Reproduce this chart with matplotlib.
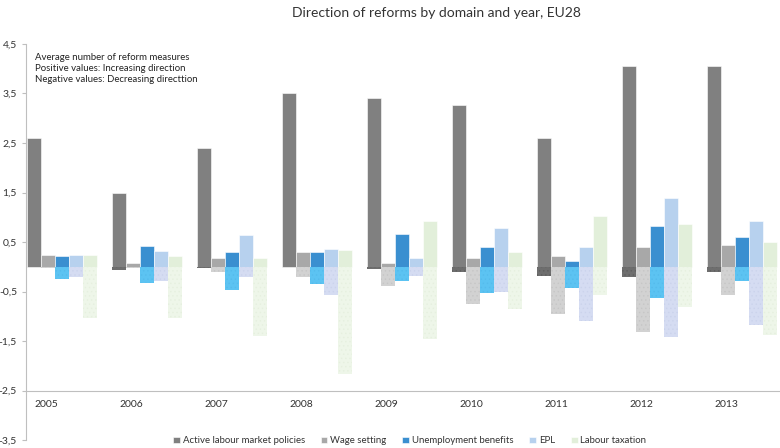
import matplotlib.pyplot as plt
import numpy as np

years = ["2005", "2006", "2007", "2008", "2009", "2010", "2011", "2012", "2013"]
domains = ["Active labour market policies", "Wage setting", "Unemployment benefits",
           "EPL", "Labour taxation"]

# increasing direction (positive)
almp_pos = [2.60, 1.50, 2.40, 3.51, 3.41, 3.27, 2.60, 4.06, 4.06]
wage_pos = [0.24, 0.07, 0.17, 0.29, 0.07, 0.17, 0.21, 0.39, 0.43]
unemp_pos = [0.21, 0.42, 0.29, 0.29, 0.67, 0.39, 0.11, 0.82, 0.61]
epl_pos = [0.24, 0.32, 0.64, 0.35, 0.17, 0.78, 0.39, 1.39, 0.93]
tax_pos = [0.24, 0.21, 0.17, 0.34, 0.92, 0.29, 1.02, 0.86, 0.50]

# decreasing direction (negative)
almp_neg = [0.00, -0.07, -0.03, 0.00, -0.04, -0.11, -0.18, -0.21, -0.11]
wage_neg = [-0.03, -0.03, -0.11, -0.21, -0.39, -0.75, -0.96, -1.32, -0.57]
unemp_neg = [-0.25, -0.33, -0.46, -0.35, -0.29, -0.53, -0.43, -0.63, -0.29]
epl_neg = [-0.21, -0.29, -0.21, -0.57, -0.18, -0.50, -1.10, -1.42, -1.17]
tax_neg = [-1.03, -1.03, -1.40, -2.17, -1.45, -0.85, -0.57, -0.82, -1.38]

pos_series = [almp_pos, wage_pos, unemp_pos, epl_pos, tax_pos]
neg_series = [almp_neg, wage_neg, unemp_neg, epl_neg, tax_neg]

pos_colors = ["#808080", "#a8a8a8", "#3a8fd0", "#b7d1ee", "#e2efda"]
neg_colors = ["#6e6e6e", "#d2d2d2", "#5cc3f2", "#d5dcf2", "#eef6e9"]
neg_hatch = ["#5e5e5e", "#c6c6c6", "#55bbec", "#cbd3ec", "#e6f0df"]

y_ticks = [4.5, 3.5, 2.5, 1.5, 0.5, -0.5, -1.5, -2.5, -3.5]

plt.rcParams["font.family"] = ["Lato", "DejaVu Sans"]
plt.rcParams["hatch.linewidth"] = 0.5

fig = plt.figure(figsize=(7.8, 4.48), dpi=100)
ax = fig.add_axes([26 / 780, 8 / 448, 754 / 780, 396 / 448])

x = np.arange(len(years))
width = 0.165

for k in range(len(domains)):
    xs = x + (k - 2) * width
    ax.bar(xs, pos_series[k], width, color=pos_colors[k], label=domains[k],
           edgecolor="white", linewidth=0.4, zorder=2)
    ax.bar(xs, neg_series[k], width, color=neg_colors[k], hatch="....",
           edgecolor=neg_hatch[k], linewidth=0, zorder=2)

ax.set_xlim(-0.42, 8.45)
ax.set_ylim(-3.5, 4.5)

ax.set_yticks(y_ticks)
ax.set_yticklabels([("%.1f" % v).replace(".", ",") for v in y_ticks])
ax.tick_params(axis="y", labelsize=7.5, length=3, color="#bfbfbf", labelcolor="#333333")

ax.spines["bottom"].set_position(("data", -2.5))
ax.spines["bottom"].set_color("#bfbfbf")
ax.spines["left"].set_color("#bfbfbf")
ax.spines["top"].set_visible(False)
ax.spines["right"].set_visible(False)

ax.set_xticks(x - 0.175)
ax.set_xticklabels(years)
ax.tick_params(axis="x", length=0, labelsize=7.5, pad=7, labelcolor="#333333")

ax.text(0.012, 0.978,
        "Average number of reform measures\nPositive values: Increasing direction\n"
        "Negative values: Decreasing directtion",
        transform=ax.transAxes, fontsize=6.9, va="top", ha="left",
        linespacing=1.3, color="#222222")

fig.text(0.559, 0.972, "Direction of reforms by domain and year, EU28",
         ha="center", va="center", fontsize=10, color="#333333")

leg = ax.legend(loc="lower center", bbox_to_anchor=(0.509, -0.035), ncol=5,
                frameon=False, fontsize=6.9, handlelength=0.7, handleheight=0.7,
                handletextpad=0.3, columnspacing=1.65)
for t in leg.get_texts():
    t.set_color("#333333")

fig.savefig("out.png", dpi=100)
